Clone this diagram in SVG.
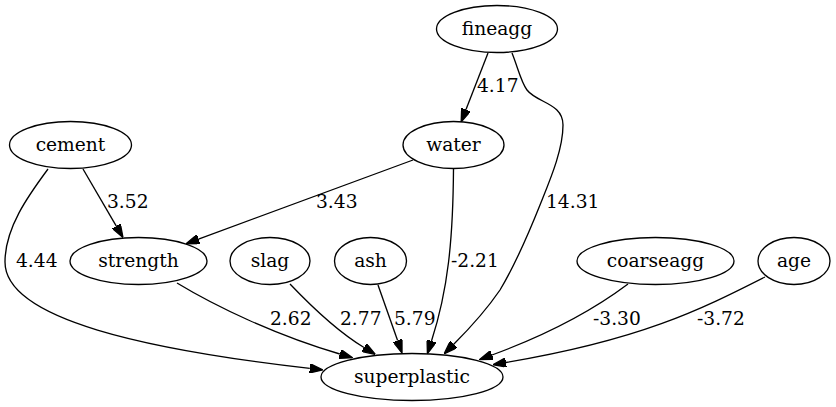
<svg xmlns="http://www.w3.org/2000/svg" width="836" height="407" viewBox="0 0 836 407">
<style>
.n ellipse{fill:none;stroke:#000;stroke-width:1.33}
.n text,.l{font-family:"DejaVu Serif","Liberation Serif",serif;font-size:18.67px;fill:#000}
.n text{text-anchor:middle}
.e path{fill:none;stroke:#000;stroke-width:1.33;marker-end:url(#ah)}
</style>
<defs>
<marker id="ah" viewBox="0 0 10 7" refX="0" refY="3.5" markerWidth="13.3" markerHeight="9.3" markerUnits="userSpaceOnUse" orient="auto">
<path d="M0,0 L10,3.5 L0,7 z" fill="#000" stroke="#000" stroke-width="1"/>
</marker>
</defs>
<rect width="836" height="407" fill="#fff"/>
<g id="edges" class="e">
<path d="M488,53 L466,109.6"/>
<path d="M512,53 C518,68 521,82 527,90 C537,103 563,103 563,125 C563,150 550,180 540,205 C528,235 515,265 500,290 C485,312 470,328 453.5,344.5"/>
<path d="M83,169 L116.3,226.1"/>
<path d="M48,169 C28,196 5,228 5,262 C5,320 150,350 309.8,368.4"/>
<path d="M413,160 L198.5,239.1"/>
<path d="M453.5,169 C453,240 448,290 431.5,341"/>
<path d="M177,283 C215,306 275,335 339.8,354"/>
<path d="M290,284 C310,305 335,330 364,347.5"/>
<path d="M378,285 L397.6,340.5"/>
<path d="M628,284 C600,305 560,330 492,355"/>
<path d="M765,277 C700,310 640,340 506,362.5"/>
</g>
<g id="edge-labels">
<text class="l" x="477" y="92">4.17</text>
<text class="l" x="546" y="208">14.31</text>
<text class="l" x="107" y="208">3.52</text>
<text class="l" x="316" y="208">3.43</text>
<text class="l" x="16" y="267">4.44</text>
<text class="l" x="451" y="267">-2.21</text>
<text class="l" x="270" y="325">2.62</text>
<text class="l" x="340" y="325">2.77</text>
<text class="l" x="394" y="325">5.79</text>
<text class="l" x="593" y="325">-3.30</text>
<text class="l" x="697" y="325">-3.72</text>
</g>
<g id="fineagg" class="n"><ellipse cx="497" cy="29" rx="60.5" ry="23.5"/><text x="497" y="35">fineagg</text></g>
<g id="cement" class="n"><ellipse cx="70.5" cy="145" rx="61" ry="23.5"/><text x="70.5" y="151">cement</text></g>
<g id="water" class="n"><ellipse cx="453.5" cy="145" rx="50.5" ry="23.5"/><text x="453.5" y="151">water</text></g>
<g id="strength" class="n"><ellipse cx="138.5" cy="261" rx="68.5" ry="23.5"/><text x="138.5" y="267">strength</text></g>
<g id="slag" class="n"><ellipse cx="270" cy="261" rx="40" ry="23.5"/><text x="270" y="267">slag</text></g>
<g id="ash" class="n"><ellipse cx="370.5" cy="261" rx="36" ry="23.5"/><text x="370.5" y="267">ash</text></g>
<g id="coarseagg" class="n"><ellipse cx="655.5" cy="261" rx="78.5" ry="23.5"/><text x="655.5" y="267">coarseagg</text></g>
<g id="age" class="n"><ellipse cx="794" cy="261" rx="36" ry="23.5"/><text x="794" y="267">age</text></g>
<g id="superplastic" class="n"><ellipse cx="412" cy="377" rx="91" ry="23.5"/><text x="412" y="383">superplastic</text></g>
</svg>
